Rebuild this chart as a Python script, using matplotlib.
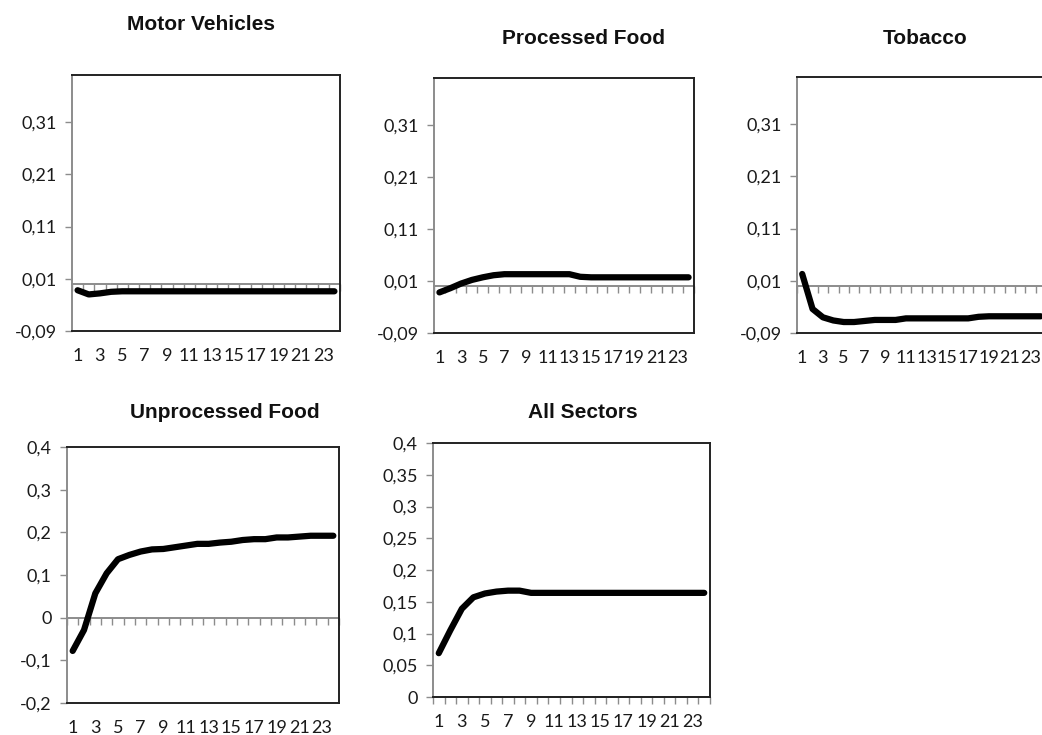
import numpy as np
import matplotlib
matplotlib.use('Agg')
import matplotlib.pyplot as plt
from matplotlib.ticker import FuncFormatter

# response horizon 1..24
periods = list(range(1, 25))
xtick_labels = [str(p) for p in range(1, 25, 2)]

motor_vehicles = [-0.012, -0.020, -0.018, -0.015, -0.014, -0.014, -0.014, -0.014,
                  -0.014, -0.014, -0.014, -0.014, -0.014, -0.014, -0.014, -0.014,
                  -0.014, -0.014, -0.014, -0.014, -0.014, -0.014, -0.014, -0.014]
processed_food = [-0.012, -0.004, 0.005, 0.012, 0.017, 0.021, 0.023, 0.023,
                  0.023, 0.023, 0.023, 0.023, 0.023, 0.018, 0.017, 0.017,
                  0.017, 0.017, 0.017, 0.017, 0.017, 0.017, 0.017, 0.017]
tobacco = [0.023, -0.044, -0.060, -0.066, -0.069, -0.069, -0.067, -0.065,
           -0.065, -0.065, -0.062, -0.062, -0.062, -0.062, -0.062, -0.062,
           -0.062, -0.059, -0.058, -0.058, -0.058, -0.058, -0.058, -0.058]
unprocessed_food = [-0.078, -0.029, 0.057, 0.104, 0.137, 0.147, 0.155, 0.160,
                    0.161, 0.165, 0.169, 0.173, 0.173, 0.176, 0.178, 0.182,
                    0.184, 0.184, 0.188, 0.188, 0.190, 0.192, 0.192, 0.192]
all_sectors = [0.069, 0.105, 0.139, 0.157, 0.163, 0.166, 0.1675, 0.1675,
               0.164, 0.164, 0.164, 0.164, 0.164, 0.164, 0.164, 0.164,
               0.164, 0.164, 0.164, 0.164, 0.164, 0.164, 0.164, 0.164]

top_yticks = [-0.09, 0.01, 0.11, 0.21, 0.31]
unproc_yticks = [-0.2, -0.1, 0, 0.1, 0.2, 0.3, 0.4]
all_yticks = [0, 0.05, 0.1, 0.15, 0.2, 0.25, 0.3, 0.35, 0.4]

W, H = 1042, 735
fig = plt.figure(figsize=(W / 100, H / 100), dpi=100)

tick_font = 'Lato'
label_col = '#1a1a1a'
axis_col = '#8c8c8c'


def comma(v, pos):
    s = ('%.2f' % v).rstrip('0').rstrip('.')
    if s == '-0':
        s = '0'
    return s.replace('.', ',')


def panel(box, title, title_xy, y, yticks, ylim):
    l, r, t, b = box
    ax = fig.add_axes([l / W, 1 - b / H, (r - l) / W, (b - t) / H])
    ax.plot(periods, y, color='black', linewidth=4.5, solid_capstyle='round',
            solid_joinstyle='round')
    ax.set_xlim(0.5, len(periods) + 0.5)
    ax.set_ylim(*ylim)
    ax.set_xticks(range(1, 25, 2))
    ax.set_xticklabels(xtick_labels, fontsize=13, family=tick_font, color=label_col)
    ax.tick_params(axis='x', length=0, pad=12)
    ax.set_yticks(yticks)
    ax.yaxis.set_major_formatter(FuncFormatter(comma))
    ax.tick_params(axis='y', length=5, color=axis_col, width=1, pad=6,
                   labelsize=13, labelcolor=label_col)
    for lab in ax.get_yticklabels():
        lab.set_family(tick_font)
    for s in ['top', 'right', 'bottom']:
        ax.spines[s].set_color('#222222')
        ax.spines[s].set_linewidth(1.4)
    ax.spines['left'].set_color(axis_col)
    ax.spines['left'].set_linewidth(1.4)
    # category axis crossing at zero with tick marks between categories
    sec = ax.secondary_xaxis(0, transform=ax.transData)
    sec.set_xticks(np.arange(0.5, len(periods) + 1, 1.0))
    sec.set_xticklabels([])
    sec.tick_params(axis='x', length=5, color=axis_col, width=1, direction='out')
    sec.spines['bottom'].set_color(axis_col)
    sec.spines['bottom'].set_linewidth(1.4)
    fig.text(title_xy[0] / W, 1 - title_xy[1] / H, title, ha='center', va='center',
             fontsize=15, fontweight='bold', family='Liberation Sans', color='#111111')
    return ax


panel((72, 340, 75, 331), 'Motor Vehicles', (201, 25), motor_vehicles,
      top_yticks, (-0.09, 0.40))
panel((434, 694, 78, 333), 'Processed Food', (584, 39), processed_food,
      top_yticks, (-0.09, 0.40))
panel((797, 1046, 77, 333), 'Tobacco', (925, 39), tobacco,
      top_yticks, (-0.09, 0.40))
panel((67, 339, 447, 703), 'Unprocessed Food', (225, 412), unprocessed_food,
      unproc_yticks, (-0.2, 0.4))
panel((433, 710, 443, 697), 'All Sectors', (583, 412), all_sectors,
      all_yticks, (0, 0.4))

fig.savefig('out.png', dpi=100)
